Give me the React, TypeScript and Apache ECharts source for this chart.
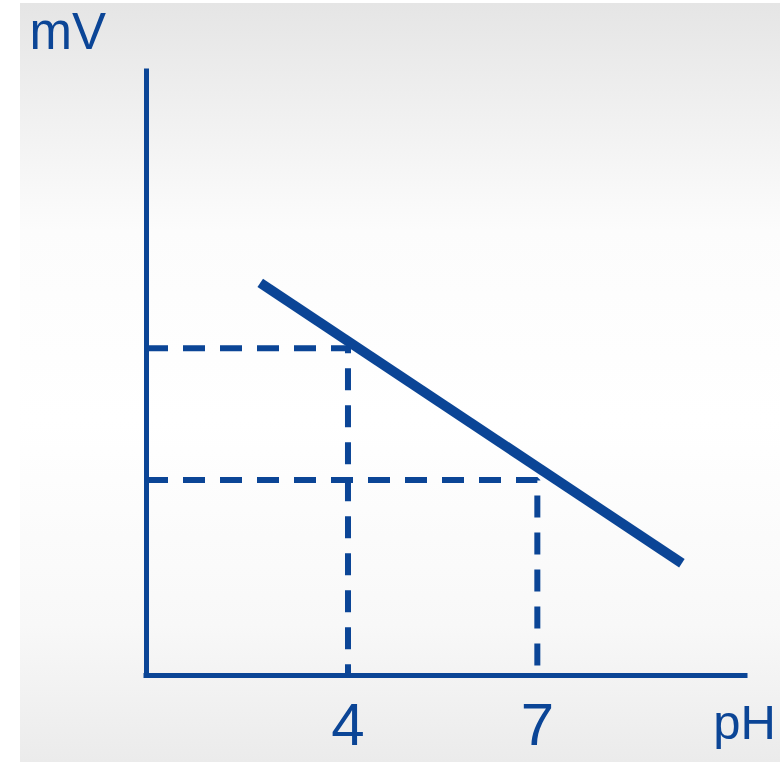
import React, { useEffect, useRef } from "react";
import * as echarts from "echarts";

// pH calibration points (buffer pH and electrode potential, mV)
const bufferPh = [4, 7];
const bufferMv = [177, 0];

// electrode response line (start and end points)
const responsePh = [2.61, 9.29];
const responseMv = [265, -112];

// axis extents
const phRange = [0.8, 10.29];
const mvRange = [-263, 550];

const BLUE = "#0b4596";
const FONT = "'Liberation Sans', Arial, sans-serif";

const isBuffer = (v: number) => bufferPh.some((p) => Math.abs(v - p) < 1e-6);

export default function App() {
  const ref = useRef<HTMLDivElement>(null);

  useEffect(() => {
    if (!ref.current) return;
    const chart = echarts.init(ref.current, undefined, { renderer: "svg" });

    const guides = bufferPh.map((ph, i) => ({
      type: "line",
      name: `pH ${ph}`,
      data: [
        [phRange[0], bufferMv[i]],
        [ph, bufferMv[i]],
        [ph, mvRange[0]],
      ],
      symbol: "none",
      silent: true,
      z: 3,
      lineStyle: { color: BLUE, width: 6, type: [22, 15], cap: "butt" },
    }));

    chart.setOption({
      animation: false,
      graphic: {
        elements: [
          {
            type: "rect",
            z: -10,
            silent: true,
            shape: { x: 20, y: 3, width: 760, height: 759 },
            style: {
              fill: new echarts.graphic.LinearGradient(0, 0, 0, 1, [
                { offset: 0, color: "#e5e5e5" },
                { offset: 0.3, color: "#fcfcfc" },
                { offset: 0.55, color: "#ffffff" },
                { offset: 0.82, color: "#f8f8f8" },
                { offset: 1, color: "#ebebeb" },
              ]),
            },
          },
        ],
      },
      grid: {
        left: 146,
        top: 71,
        right: 35,
        bottom: 86.5,
        containLabel: false,
        outerBoundsMode: "none",
      },
      xAxis: {
        type: "value",
        min: phRange[0],
        max: phRange[1],
        interval: 0.1,
        name: "pH",
        nameLocation: "end",
        nameGap: 31,
        nameTextStyle: {
          color: BLUE,
          fontFamily: FONT,
          fontSize: 49,
          lineHeight: 49,
          align: "right",
          verticalAlign: "top",
          padding: [22, 0, 0, 0],
        },
        axisLine: { onZero: false, lineStyle: { color: BLUE, width: 5, cap: "square" } },
        axisTick: { show: false },
        splitLine: { show: false },
        axisLabel: {
          interval: 0,
          hideOverlap: false,
          formatter: (v: number) => (isBuffer(v) ? String(Math.round(v)) : ""),
          color: BLUE,
          fontFamily: FONT,
          fontSize: 60,
          lineHeight: 60,
          margin: 19,
        },
      },
      yAxis: {
        type: "value",
        min: mvRange[0],
        max: mvRange[1],
        name: "mV",
        nameLocation: "end",
        nameGap: 40,
        nameTextStyle: {
          color: BLUE,
          fontFamily: FONT,
          fontSize: 51,
          lineHeight: 51,
          align: "right",
          verticalAlign: "middle",
          padding: [0, 40, 0, 0],
        },
        axisLine: { onZero: false, lineStyle: { color: BLUE, width: 5, cap: "square" } },
        axisTick: { show: false },
        splitLine: { show: false },
        axisLabel: { show: false },
      },
      series: [
        ...guides,
        {
          type: "line",
          name: "response",
          data: responsePh.map((ph, i) => [ph, responseMv[i]]),
          symbol: "none",
          silent: true,
          z: 4,
          lineStyle: { color: BLUE, width: 10, cap: "butt" },
        },
      ],
    });

    return () => chart.dispose();
  }, []);

  return (
    <div
      ref={ref}
      style={{ position: "absolute", left: 0, top: 0, width: 780, height: 762 }}
    />
  );
}
